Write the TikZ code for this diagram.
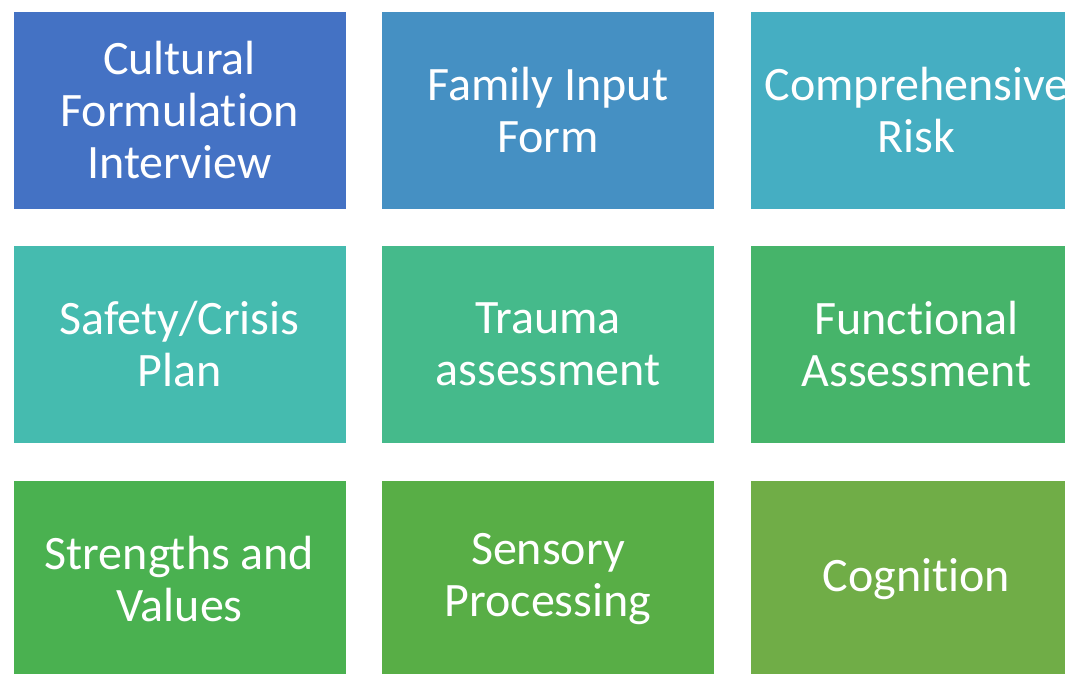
\documentclass[tikz,border=0pt]{standalone}
\usepackage{fontspec}
\setmainfont{Carlito}[Ligatures=NoCommon]
\usepackage{xcolor}
\usepackage{tikz}

\definecolor{boxA}{HTML}{4472C4}
\definecolor{boxB}{HTML}{4590C3}
\definecolor{boxC}{HTML}{45AEC2}
\definecolor{boxD}{HTML}{45BBAF}
\definecolor{boxE}{HTML}{45BA8B}
\definecolor{boxF}{HTML}{46B46A}
\definecolor{boxG}{HTML}{4AB150}
\definecolor{boxH}{HTML}{58AE46}
\definecolor{boxI}{HTML}{70AD47}

\begin{document}
\begin{tikzpicture}[x=1pt,y=-1pt,
    tile/.style={rectangle, draw=white, line width=0.6pt, text=white,
      minimum width=333pt, minimum height=198pt, inner sep=0pt,
      align=center, font=\fontsize{48}{52}\selectfont}]
                \clip (0,0) rectangle (1065,674);
                \fill[white] (0,0) rectangle (1065,674);

                \coordinate (C1) at (179.5,110);
                \coordinate (C2) at (548,110);
                \coordinate (C3) at (916.5,110);

                \node[tile, fill=boxA] (cfi) at (C1) {Cultural\\Formulation\\Interview};
                \node[tile, fill=boxB] (family) at (C2) {Family Input\\Form};
                \node[tile, fill=boxC] (risk) at (C3) {Comprehensive\\Risk};

                \node[tile, fill=boxD] (safety) at (179.5,344.5) {Safety/Crisis\\Plan};
                \node[tile, fill=boxE] (trauma) at (548,344.5) {Trauma\\assessment};
                \node[tile, fill=boxF] (functional) at (916.5,344.5) {Functional\\Assessment};

                \node[tile, fill=boxG] (strengths) at (179.5,579) {Strengths and\\Values};
                \node[tile, fill=boxH] (sensory) at (548,579) {Sensory\\Processing};
                \node[tile, fill=boxI] (cognition) at (916.5,579) {Cognition};
             \end{tikzpicture}
\end{document}
